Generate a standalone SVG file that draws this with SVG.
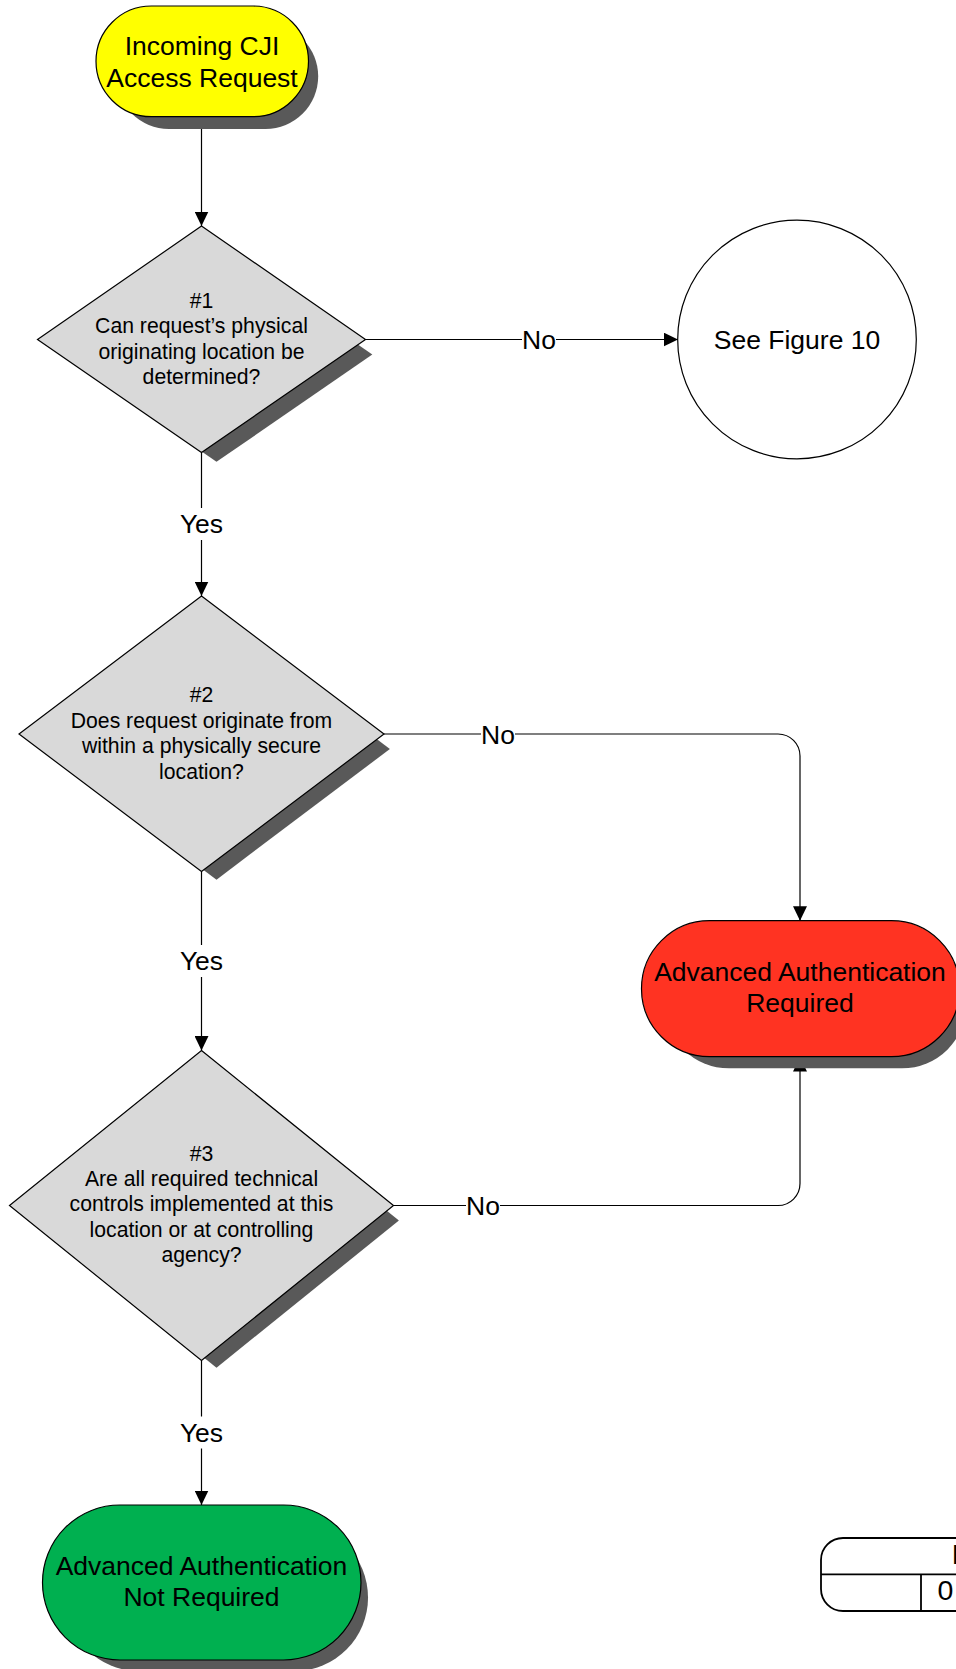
<svg xmlns="http://www.w3.org/2000/svg" width="956" height="1669" viewBox="0 0 956 1669">
<defs>
<marker id="arr" viewBox="0 0 14.5 14" refX="14.5" refY="7" markerWidth="14.5" markerHeight="14" markerUnits="userSpaceOnUse" orient="auto"><path d="M0,0 L14.5,7 L0,14 z" fill="#000"/></marker>
</defs>
<style>
.conn{fill:none;stroke:#000;stroke-width:1.2}
.shadow{fill:#595959;stroke:none}
.node{stroke:#000;stroke-width:1.2}
.big{font-family:"Liberation Sans",Arial,sans-serif;font-size:26.5px;fill:#000;text-anchor:middle}
.q{font-family:"Liberation Sans",Arial,sans-serif;font-size:21.2px;fill:#000;text-anchor:middle}
.lblbg{fill:#fff}
.tbl{fill:#fff;stroke:#000;stroke-width:1.8}
.tt{font-family:"Liberation Sans",Arial,sans-serif;font-size:28.5px;fill:#000}
</style>
<rect width="956" height="1669" fill="#fff"/>

<g id="connectors">
  <path class="conn" d="M201.5,117 L201.5,226" marker-end="url(#arr)"/>
  <path class="conn" d="M365.5,339.5 L678,339.5" marker-end="url(#arr)"/>
  <path class="conn" d="M201.5,452.5 L201.5,596" marker-end="url(#arr)"/>
  <path class="conn" d="M384,734 L778,734 A22,22 0 0 1 800,756 L800,920.7" marker-end="url(#arr)"/>
  <path class="conn" d="M201.5,871.5 L201.5,1050.5" marker-end="url(#arr)"/>
  <path class="conn" d="M393.5,1205.5 L778,1205.5 A22,22 0 0 0 800,1183.5 L800,1057" marker-end="url(#arr)"/>
  <path class="conn" d="M201.5,1360.5 L201.5,1505" marker-end="url(#arr)"/>
  <g id="labels">
    <rect class="lblbg" x="522" y="324.5" width="34" height="30"/>
    <text class="big" x="539" y="349">No</text>
    <rect class="lblbg" x="178.5" y="508" width="46" height="32"/>
    <text class="big" x="201.5" y="533">Yes</text>
    <rect class="lblbg" x="481" y="719" width="34" height="30"/>
    <text class="big" x="498" y="743.5">No</text>
    <rect class="lblbg" x="178.5" y="945" width="46" height="32"/>
    <text class="big" x="201.5" y="970">Yes</text>
    <rect class="lblbg" x="466" y="1190.5" width="34" height="30"/>
    <text class="big" x="483" y="1215">No</text>
    <rect class="lblbg" x="178.5" y="1416.5" width="46" height="32"/>
    <text class="big" x="201.5" y="1441.5">Yes</text>
  </g>
</g>

<g id="incoming">
  <rect class="shadow" x="96" y="6" width="212.5" height="110.7" rx="55.35" transform="translate(217.25,76.35) scale(0.95) translate(-202.25,-61.35)"/>
  <rect class="node" x="96" y="6" width="212.5" height="110.7" rx="55.35" fill="#ffff00"/>
  <text class="big" x="202" y="55">Incoming CJI</text>
  <text class="big" x="202" y="87">Access Request</text>
</g>

<g id="decision1">
  <polygon class="shadow" points="201.5,226 365.5,339.5 201.5,452.5 37.5,339.5" transform="translate(216.5,354.5) scale(0.95) translate(-201.5,-339.5)"/>
  <polygon class="node" points="201.5,226 365.5,339.5 201.5,452.5 37.5,339.5" fill="#d9d9d9"/>
  <text class="q" x="201.5" y="308">#1</text>
  <text class="q" x="201.5" y="333.2">Can request’s physical</text>
  <text class="q" x="201.5" y="358.6">originating location be</text>
  <text class="q" x="201.5" y="384">determined?</text>
</g>

<g id="figure10">
  <circle class="node" cx="797" cy="339.5" r="119.3" fill="#fff"/>
  <text class="big" x="797" y="349">See Figure 10</text>
</g>

<g id="decision2">
  <polygon class="shadow" points="201.5,596 384,734 201.5,871.5 19,734" transform="translate(216.5,749) scale(0.95) translate(-201.5,-734)"/>
  <polygon class="node" points="201.5,596 384,734 201.5,871.5 19,734" fill="#d9d9d9"/>
  <text class="q" x="201.5" y="702">#2</text>
  <text class="q" x="201.5" y="727.5">Does request originate from</text>
  <text class="q" x="201.5" y="753.3">within a physically secure</text>
  <text class="q" x="201.5" y="778.5">location?</text>
</g>

<g id="required">
  <rect class="shadow" x="641.5" y="920.7" width="318" height="136" rx="68" transform="translate(815.5,1003.7) scale(0.95) translate(-800.5,-988.7)"/>
  <rect class="node" x="641.5" y="920.7" width="318" height="136" rx="68" fill="#ff3322"/>
  <text class="big" x="800" y="980.5">Advanced Authentication</text>
  <text class="big" x="800" y="1012">Required</text>
</g>

<g id="decision3">
  <polygon class="shadow" points="201.5,1050.5 393.5,1205.5 201.5,1360.5 9.5,1205.5" transform="translate(216.5,1220.5) scale(0.95) translate(-201.5,-1205.5)"/>
  <polygon class="node" points="201.5,1050.5 393.5,1205.5 201.5,1360.5 9.5,1205.5" fill="#d9d9d9"/>
  <text class="q" x="201.5" y="1160.5">#3</text>
  <text class="q" x="201.5" y="1186">Are all required technical</text>
  <text class="q" x="201.5" y="1211.3">controls implemented at this</text>
  <text class="q" x="201.5" y="1236.8">location or at controlling</text>
  <text class="q" x="201.5" y="1262">agency?</text>
</g>

<g id="notrequired">
  <rect class="shadow" x="42.5" y="1505" width="318.5" height="155" rx="77.5" transform="translate(216.75,1597.5) scale(0.95) translate(-201.75,-1582.5)"/>
  <rect class="node" x="42.5" y="1505" width="318.5" height="155" rx="77.5" fill="#00b050"/>
  <text class="big" x="201.5" y="1575">Advanced Authentication</text>
  <text class="big" x="201.5" y="1606">Not Required</text>
</g>

<g id="titleblock">
  <rect class="tbl" x="821" y="1538" width="220" height="73" rx="22"/>
  <line class="tbl" x1="821" y1="1574.3" x2="1041" y2="1574.3"/>
  <line class="tbl" x1="921" y1="1574.3" x2="921" y2="1611"/>
  <text class="tt" x="951.5" y="1564">I</text>
  <text class="tt" x="937.5" y="1600">0</text>
</g>
</svg>
